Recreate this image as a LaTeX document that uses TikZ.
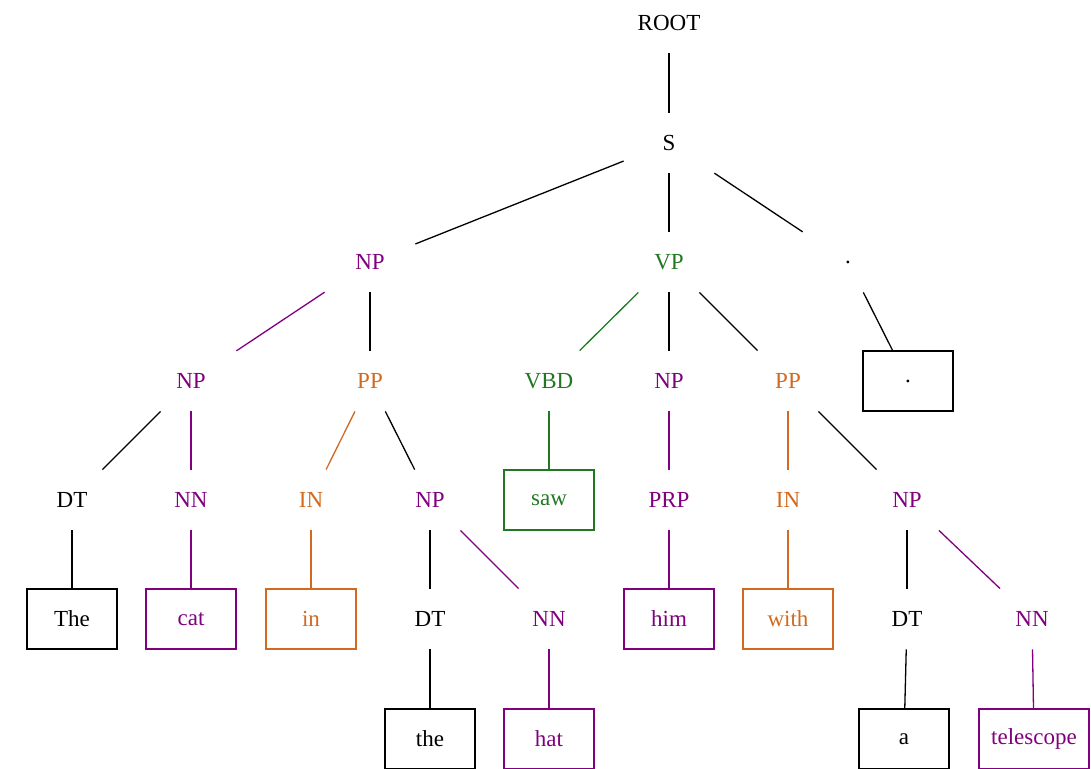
\documentclass[tikz,border=0pt]{standalone}
\usepackage{fontspec}
\setmainfont{Liberation Serif}
\usepackage{xcolor}
\definecolor{tagpurple}{RGB}{128,0,128}
\definecolor{taggreen}{RGB}{34,120,34}
\definecolor{tagorange}{RGB}{210,105,30}

\begin{document}
\begin{tikzpicture}[x=0.5pt,y=-0.5pt,
    tag/.style={minimum width=45pt,minimum height=30pt,inner sep=0pt,
      font=\fontsize{11.5}{13}\selectfont},
    word/.style={tag,draw,line width=0.6pt},
    edge/.style={line width=0.65pt}]
      \useasboundingbox (0,0) rectangle (1091,768);

      % Phrase labels
      \node[tag] (root) at (669,23) {ROOT};
      \node[tag] (s) at (669,143) {S};
      \node[tag,tagpurple] (np1) at (370,262) {NP};
      \node[tag,taggreen] (vp) at (669,262) {VP};
      \node[tag] (dot) at (848,262) {.};
      \node[tag,tagpurple] (np2) at (191,381) {NP};
      \node[tag,tagorange] (pp1) at (370,381) {PP};
      \node[tag,taggreen] (vbd) at (549,381) {VBD};
      \node[tag,tagpurple] (np3) at (669,381) {NP};
      \node[tag,tagorange] (pp2) at (788,381) {PP};
      \node[tag] (dt1) at (72,500) {DT};
      \node[tag,tagpurple] (nn1) at (191,500) {NN};
      \node[tag,tagorange] (in1) at (311,500) {IN};
      \node[tag,tagpurple] (np4) at (430,500) {NP};
      \node[tag,tagpurple] (prp) at (669,500) {PRP};
      \node[tag,tagorange] (in2) at (788,500) {IN};
      \node[tag,tagpurple] (np5) at (907,500) {NP};
      \node[tag] (dt2) at (430,619) {DT};
      \node[tag,tagpurple] (nn2) at (549,619) {NN};
      \node[tag] (dt3) at (907,619) {DT};
      \node[tag,tagpurple] (nn3) at (1032,619) {NN};

      % Words
      \node[word] (wdot) at (908,381) {.};
      \node[word,taggreen] (wsaw) at (549,500) {saw};
      \node[word] (wThe) at (72,619) {The};
      \node[word,tagpurple] (wcat) at (191,619) {cat};
      \node[word,tagorange] (win) at (311,619) {in};
      \node[word,tagpurple] (whim) at (669,619) {him};
      \node[word,tagorange] (wwith) at (788,619) {with};
      \node[word] (wthe) at (430,739) {the};
      \node[word,tagpurple] (what) at (549,739) {hat};
      \node[word] (wa) at (904,739) {a};
      \node[word,tagpurple,minimum width=55pt] (wtelescope) at (1034,739) {telescope};

      % Black edges
      \draw[edge] (root) -- (s);
      \draw[edge] (s) -- (np1);
      \draw[edge] (s) -- (vp);
      \draw[edge] (s) -- (dot);
      \draw[edge] (dot) -- (wdot);
      \draw[edge] (np1) -- (pp1);
      \draw[edge] (vp) -- (np3);
      \draw[edge] (vp) -- (pp2);
      \draw[edge] (np2) -- (dt1);
      \draw[edge] (pp1) -- (np4);
      \draw[edge] (pp2) -- (np5);
      \draw[edge] (dt1) -- (wThe);
      \draw[edge] (np4) -- (dt2);
      \draw[edge] (np5) -- (dt3);
      \draw[edge] (dt2) -- (wthe);
      \draw[edge] (dt3) -- (wa);

      % Coloured edges
      \draw[edge,tagpurple] (np1) -- (np2);
      \draw[edge,tagpurple] (np2) -- (nn1);
      \draw[edge,tagpurple] (nn1) -- (wcat);
      \draw[edge,tagpurple] (np3) -- (prp);
      \draw[edge,tagpurple] (prp) -- (whim);
      \draw[edge,tagpurple] (np4) -- (nn2);
      \draw[edge,tagpurple] (nn2) -- (what);
      \draw[edge,tagpurple] (np5) -- (nn3);
      \draw[edge,tagpurple] (nn3) -- (wtelescope);
      \draw[edge,taggreen] (vp) -- (vbd);
      \draw[edge,taggreen] (vbd) -- (wsaw);
      \draw[edge,tagorange] (pp1) -- (in1);
      \draw[edge,tagorange] (in1) -- (win);
      \draw[edge,tagorange] (pp2) -- (in2);
      \draw[edge,tagorange] (in2) -- (wwith);
\end{tikzpicture}
\end{document}
